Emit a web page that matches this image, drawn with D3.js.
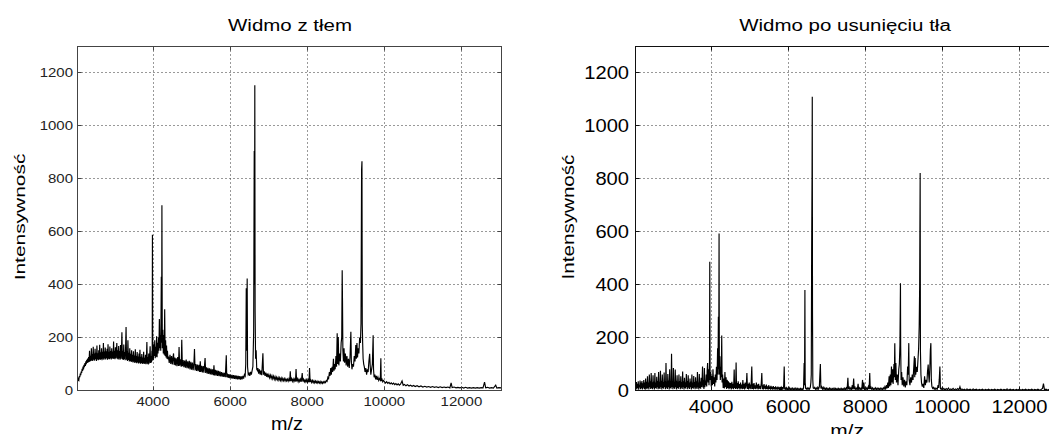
<!DOCTYPE html>
<html>
<head>
<meta charset="utf-8">
<script src="https://cdn.jsdelivr.net/npm/d3@7"></script>
<style>
  body { margin: 0; background: #fff; }
  svg { display: block; }
  text { font-family: "Liberation Sans", Arial, sans-serif; }
</style>
</head>
<body>
<div id="chart"></div>
<script>
// 1: DATA
const xTicks = [4000, 6000, 8000, 10000, 12000];
const yTicks = [0, 200, 400, 600, 800, 1000, 1200];
const xDomain = [2040, 13040];
const yDomain = [0, 1300];
const titles = ["Widmo z tłem", "Widmo po usunięciu tła"];
const xLabel = "m/z";
const yLabel = "Intensywność";

// [m/z, intensity] - raw spectrum with background
const spectrumWithBg = [
 [2052,35],[2064,44],[2076,40],[2088,55],[2100,50],[2112,64],[2124,58],[2136,72],[2148,66],[2160,82],[2172,74],[2184,90],[2196,80],[2208,97],[2220,88],[2232,104],[2244,93],[2256,110],[2268,99],[2280,116],[2292,104],[2304,121],[2316,106],[2328,126],[2340,108],[2352,150],[2364,110],[2376,131],[2388,112],[2400,160],[2412,114],[2424,138],[2436,112],[2448,165],[2460,116],[2472,140],[2484,113],[2496,158],[2508,118],[2520,143],[2532,112],[2544,170],[2556,117],[2568,141],[2580,114],[2592,152],[2604,118],[2616,173],[2628,115],[2640,144],[2652,119],[2664,160],[2676,114],[2688,146],[2700,120],[2712,179],[2724,116],[2736,147],[2748,121],[2760,162],[2772,117],[2784,148],[2796,122],[2808,158],[2820,116],[2832,175],[2844,120],[2856,146],[2868,118],[2880,166],[2892,121],[2904,149],[2916,117],[2928,160],[2940,122],[2952,147],[2964,119],[2976,185],[2988,121],[3000,150],[3012,118],[3024,163],[3036,122],[3048,146],[3060,179],[3072,120],[3084,152],[3096,117],[3108,168],[3120,121],[3132,149],[3144,116],[3156,172],[3168,120],[3180,146],[3192,220],[3204,118],[3216,150],[3228,115],[3240,174],[3252,119],[3264,145],[3276,114],[3288,162],[3300,240],[3312,116],[3324,148],[3336,112],[3348,190],[3360,115],[3372,143],[3384,110],[3396,160],[3408,112],[3420,139],[3432,108],[3444,152],[3456,110],[3468,135],[3480,106],[3492,148],[3504,109],[3516,132],[3528,104],[3540,156],[3552,107],[3564,130],[3576,103],[3588,145],[3600,106],[3612,128],[3624,102],[3636,140],[3648,105],[3660,154],[3672,101],[3684,127],[3696,104],[3708,138],[3720,100],[3732,125],[3744,103],[3756,146],[3768,100],[3780,124],[3792,102],[3804,135],[3816,99],[3828,122],[3840,183],[3852,101],[3864,126],[3876,98],[3888,140],[3900,102],[3912,125],[3924,167],[3936,104],[3948,130],[3960,106],[3970,150],[3978,112],[3984,589],[3992,120],[4008,118],[4020,175],[4032,130],[4044,190],[4056,122],[4068,165],[4080,128],[4092,205],[4104,126],[4116,180],[4128,140],[4140,200],[4152,150],[4164,270],[4176,160],[4188,210],[4200,150],[4214,430],[4222,180],[4230,700],[4240,160],[4254,230],[4266,140],[4278,210],[4290,135],[4302,307],[4314,130],[4326,190],[4338,125],[4350,170],[4362,120],[4374,150],[4386,118],
 [4400,128],[4420,104],[4440,135],[4460,100],[4480,130],[4500,98],[4520,128],[4532,140],[4545,97],[4565,125],[4580,95],[4600,122],[4620,92],[4640,126],[4660,93],[4675,164],[4690,94],[4710,118],[4730,90],[4745,192],[4760,92],[4780,115],[4800,88],[4820,113],[4840,86],[4860,117],[4880,84],[4900,110],[4920,83],[4940,112],[4960,80],[4980,108],[5000,79],[5020,106],[5040,77],[5060,104],[5075,157],[5090,76],[5110,100],[5130,74],[5150,98],[5170,73],[5190,97],[5210,70],[5225,110],[5240,70],[5260,93],[5280,68],[5300,92],[5320,67],[5350,123],[5365,66],[5385,88],[5405,64],[5425,86],[5445,63],[5465,84],[5485,61],[5505,82],[5525,60],[5545,80],[5565,58],[5580,95],[5595,57],[5615,78],[5635,56],[5655,76],[5675,55],[5695,74],[5715,54],[5735,72],[5755,53],[5775,70],[5795,52],[5815,68],[5835,51],[5855,67],[5875,50],[5900,133],[5912,50],[5930,64],[5950,48],[5970,62],[5990,47],[6010,60],[6030,46],[6050,59],[6070,45],[6090,58],[6110,44],[6130,57],[6150,43],[6170,56],[6190,42],[6210,55],[6230,42],[6250,54],[6270,41],[6290,53],[6310,42],[6330,55],[6350,45],[6370,60],[6390,55],[6405,100],[6418,386],[6430,150],[6442,423],[6452,90],[6470,60],[6490,65],[6510,55],[6530,70],[6550,60],[6570,75],[6590,90],[6610,220],[6625,905],[6632,400],[6640,1154],[6648,300],[6660,120],[6675,152],[6690,80],[6710,75],
 [6720,85],[6740,64],[6760,80],[6780,60],[6800,75],[6820,58],[6850,141],[6865,60],[6885,72],[6905,55],[6925,68],[6945,52],[6965,64],[6985,50],[7005,60],[7025,48],[7045,58],[7065,46],[7085,56],[7105,44],[7125,54],[7145,42],[7165,52],[7185,41],[7205,50],[7225,40],[7245,49],[7265,39],[7285,48],[7305,38],[7325,47],[7345,37],[7365,46],[7385,37],[7405,45],[7425,36],[7445,44],[7465,36],[7485,43],[7505,35],[7525,44],[7545,35],[7560,73],[7575,36],[7595,45],[7615,35],[7635,44],[7655,34],[7675,43],[7695,34],[7710,81],[7725,35],[7745,44],[7765,33],[7785,42],[7805,34],[7825,43],[7845,33],[7870,66],[7885,34],[7905,42],[7925,33],[7945,40],[7965,32],[7985,41],[8005,31],[8025,40],[8045,31],[8060,85],[8075,32],[8095,39],[8115,30],[8135,38],[8155,30],[8175,37],[8195,29],[8215,36],[8235,29],[8255,35],[8275,28],[8295,34],[8315,28],[8335,34],[8355,27],[8375,33],[8395,27],[8415,33],[8435,28],[8455,34],[8475,30],[8495,38],[8515,35],[8535,50],[8555,45],[8575,70],[8590,55],[8610,85],[8625,60],[8645,90],[8660,70],[8680,120],[8695,75],[8710,100],[8725,80],[8745,130],[8760,90],[8777,216],[8790,100],[8805,202],[8820,95],[8840,140],[8860,110],[8880,180],[8895,200],[8907,454],[8915,341],[8925,150],[8940,110],[8955,160],[8970,105],[8990,140],[9010,95],[9030,130],[9050,90],[9070,120],[9090,85],[9110,125],[9132,222],[9145,110],[9160,80],[9180,100],[9200,90],[9220,130],[9240,110],[9260,172],[9275,120],[9290,179],[9305,125],[9320,160],[9340,140],[9360,200],[9380,180],[9395,254],[9410,835],[9420,866],[9428,250],[9438,180],[9450,120],[9465,100],[9480,90],[9500,70],[9520,85],[9540,60],[9560,80],[9580,70],[9600,110],[9620,139],[9635,90],[9650,60],[9670,80],[9690,100],[9710,209],[9720,80],[9735,50],[9755,60],[9775,42],[9795,55],[9815,40],[9835,50],[9855,38],[9875,45],[9895,40],[9910,122],[9920,36],[9940,42],[9960,33],[9980,38],
 [10000,34],[10030,28],[10060,33],[10090,27],[10120,31],[10150,25],[10180,29],[10210,24],[10240,28],[10270,22],[10300,26],[10330,21],[10360,25],[10390,20],[10420,24],[10460,36],[10490,20],[10520,23],[10560,18],[10600,22],[10640,17],[10680,20],[10720,16],[10760,19],[10800,15],[10850,18],[10900,14],[10950,17],[11000,13],[11050,16],[11100,13],[11150,15],[11200,12],[11250,15],[11300,12],[11350,14],[11400,11],[11450,14],[11500,11],[11550,13],[11600,11],[11650,13],[11700,10],[11733,29],[11760,11],[11810,13],[11860,10],[11910,12],[11960,10],[12010,12],[12060,9],[12110,12],[12160,9],[12210,11],[12260,9],[12310,11],[12360,9],[12410,11],[12460,9],[12510,11],[12560,10],[12600,32],[12630,10],[12680,12],[12730,9],[12780,11],[12830,9],[12890,20],[12920,9],[12970,11],[13040,10]
];

// [m/z, intensity] - spectrum after background removal
const spectrumNoBg = [
 [2015,20],[2027,5],[2039,28],[2051,8],[2063,32],[2075,4],[2087,25],[2099,10],[2111,35],[2123,3],[2135,22],[2147,12],[2159,38],[2171,5],[2183,30],[2195,9],[2207,36],[2219,4],[2231,27],[2243,11],[2255,40],[2267,6],[2279,30],[2291,3],[2303,45],[2315,8],[2327,33],[2339,5],[2351,54],[2363,10],[2375,30],[2387,4],[2399,60],[2411,12],[2423,35],[2435,6],[2447,66],[2459,9],[2471,31],[2483,5],[2495,58],[2507,11],[2519,34],[2531,4],[2543,66],[2555,10],[2567,30],[2579,7],[2591,52],[2603,12],[2615,36],[2627,5],[2639,70],[2651,9],[2663,33],[2675,6],[2687,75],[2699,12],[2711,37],[2723,4],[2735,60],[2747,10],[2759,32],[2771,7],[2783,68],[2795,13],[2807,35],[2819,5],[2831,104],[2843,11],[2855,34],[2867,6],[2879,62],[2891,12],[2903,38],[2915,4],[2927,80],[2939,10],[2951,35],[2963,7],[2975,139],[2987,13],[2999,36],[3011,5],[3023,85],[3035,11],[3047,33],[3059,6],[3071,79],[3083,12],[3095,37],[3107,4],[3119,58],[3131,10],[3143,34],[3155,7],[3167,60],[3179,13],[3191,36],[3203,5],[3215,54],[3227,11],[3239,32],[3251,6],[3263,72],[3275,12],[3287,35],[3299,4],[3311,48],[3323,10],[3335,31],[3347,7],[3359,62],[3371,13],[3383,36],[3395,5],[3407,58],[3419,11],[3431,30],[3443,6],[3455,45],[3467,12],[3479,34],[3491,4],[3503,60],[3515,10],[3527,30],[3539,7],[3551,55],[3563,12],[3575,32],[3587,5],[3599,50],[3611,11],[3623,35],[3635,6],[3647,70],[3659,12],[3671,30],[3683,4],[3695,62],[3707,10],[3719,34],[3731,7],[3743,48],[3755,13],[3767,36],[3779,91],[3791,11],[3803,40],[3815,6],[3827,85],[3839,12],[3851,38],[3863,20],[3875,60],[3887,15],[3899,75],[3911,104],[3923,30],[3935,80],[3947,20],[3960,95],[3967,487],[3975,40],[3990,70],[4005,15],[4020,55],[4035,20],[4050,80],[4065,25],[4080,50],[4095,15],[4110,60],[4125,30],[4140,90],[4155,40],[4170,160],[4180,60],[4190,279],[4198,80],[4208,593],[4216,60],[4230,129],[4240,40],[4255,90],[4265,50],[4277,208],[4287,30],[4300,60],[4315,10],[4330,45],[4345,8],[4360,70],[4375,12],[4390,50],[4405,6],[4420,40],[4435,10],[4450,35],[4465,5],[4480,30],[4495,9],[4510,28],[4525,4],[4540,33],[4555,8],[4570,25],[4585,5],[4600,79],[4612,10],[4625,30],[4637,6],[4650,106],[4662,8],[4675,28],[4690,5],[4705,35],[4720,9],[4735,24],[4750,4],[4765,30],[4780,8],[4795,22],[4810,5],[4825,40],[4840,7],[4855,25],[4870,4],[4885,30],[4900,8],[4915,20],[4930,66],[4945,6],[4960,25],[4975,4],[4990,30],[5005,8],[5020,22],[5035,5],[5057,91],[5070,6],[5085,25],[5100,4],[5115,28],[5130,7],[5145,20],[5160,5],[5175,30],[5190,8],[5205,22],[5220,4],[5235,25],[5250,7],[5265,18],[5280,5],[5300,22],[5317,66],[5330,5],[5345,20],[5360,4],[5375,24],[5390,7],[5405,18],[5420,4],[5435,22],[5450,6],[5465,16],[5480,3],[5495,20],[5510,6],[5525,15],[5540,3],[5555,18],[5570,5],[5585,14],[5600,3],[5615,17],[5630,5],[5645,13],[5660,3],[5675,16],[5690,4],[5705,12],[5720,3],[5735,15],[5750,4],[5765,12],[5780,2],[5795,14],[5810,4],[5825,11],[5840,2],[5855,13],[5870,4],[5885,20],[5898,91],[5910,4],[5925,12],[5940,3],[5960,10],[5980,2],[6000,9],[6020,3],[6040,10],[6060,2],[6080,8],[6100,3],[6120,9],[6140,2],[6160,8],[6180,3],[6200,9],[6220,2],[6240,8],[6260,3],[6280,7],[6300,2],[6320,8],[6340,3],[6360,7],[6380,2],[6400,10],[6415,104],[6425,20],[6435,380],[6442,30],[6455,8],[6475,5],[6495,10],[6515,4],[6535,9],[6555,5],[6575,12],[6590,30],[6600,60],[6610,530],[6616,700],[6620,810],[6626,1110],[6632,300],[6640,40],[6650,10],[6670,8],[6690,12],[6710,5],[6730,10],[6750,4],[6770,12],[6790,6],[6810,15],[6836,100],[6850,8],[6870,14],[6890,5],[6910,12],[6930,4],[6950,10],[6970,3],[6990,9],[7010,3],[7030,8],[7050,2],[7070,9],[7090,3],[7110,8],[7130,2],[7150,7],[7170,3],[7190,9],[7210,2],[7230,8],[7250,3],[7270,7],[7290,2],[7310,8],[7330,3],[7350,7],[7370,2],[7390,8],[7410,3],[7430,7],[7450,2],[7470,9],[7490,3],[7510,10],[7530,4],[7550,48],[7565,5],[7585,12],[7605,3],[7625,10],[7645,4],[7665,20],[7680,4],[7700,45],[7715,5],[7735,12],[7755,3],[7775,9],[7795,4],[7815,25],[7830,4],[7850,10],[7870,3],[7890,9],[7910,4],[7930,40],[7945,5],[7965,30],[7980,4],[8000,8],[8020,3],[8040,10],[8060,4],[8080,15],[8100,5],[8117,66],[8130,6],[8150,12],[8170,4],[8190,10],[8210,3],[8230,8],[8250,4],[8270,10],[8290,3],[8310,9],[8330,4],[8350,8],[8370,3],[8390,9],[8410,4],[8430,8],[8450,3],[8470,10],[8490,5],[8510,14],[8530,6],[8550,20],[8565,8],[8585,30],[8600,10],[8620,54],[8635,15],[8650,60],[8665,20],[8680,91],[8695,30],[8710,80],[8725,25],[8745,100],[8755,50],[8767,179],[8780,40],[8795,104],[8810,30],[8830,60],[8850,20],[8870,80],[8885,100],[8900,170],[8914,405],[8920,167],[8930,40],[8945,70],[8960,20],[8980,50],[9000,15],[9020,40],[9040,12],[9060,35],[9080,20],[9100,91],[9115,60],[9130,179],[9140,40],[9160,20],[9180,50],[9200,30],[9220,60],[9240,40],[9260,90],[9275,129],[9285,50],[9295,123],[9310,60],[9330,90],[9350,70],[9370,120],[9385,160],[9400,242],[9412,392],[9425,822],[9432,150],[9445,60],[9460,30],[9480,15],[9500,25],[9520,10],[9540,54],[9560,20],[9580,40],[9600,30],[9615,70],[9633,98],[9645,60],[9660,30],[9675,80],[9690,154],[9703,179],[9715,40],[9730,15],[9750,8],[9770,12],[9790,5],[9810,10],[9830,4],[9850,8],[9870,5],[9890,20],[9905,10],[9920,40],[9937,91],[9950,8],[9970,4],[9990,9],[10010,3],
 [10040,8],[10070,2],[10100,7],[10130,3],[10160,9],[10190,2],[10220,6],[10250,3],[10280,8],[10310,2],[10340,6],[10370,3],[10400,7],[10430,2],[10457,14],[10480,2],[10510,6],[10540,2],[10570,5],[10600,1],[10640,6],[10680,2],[10720,5],[10760,1],[10800,6],[10840,2],[10880,5],[10920,1],[10960,4],[11000,2],[11040,5],[11080,1],[11120,4],[11160,2],[11200,5],[11240,1],[11280,4],[11320,2],[11360,5],[11400,1],[11440,4],[11480,2],[11520,5],[11560,1],[11600,4],[11640,2],[11680,6],[11720,1],[11760,5],[11800,2],[11840,4],[11880,1],[11920,4],[11960,2],[12000,5],[12040,1],[12080,4],[12120,2],[12160,5],[12200,1],[12240,4],[12280,2],[12320,5],[12360,1],[12400,4],[12440,2],[12480,5],[12520,1],[12560,4],[12600,8],[12624,26],[12650,3],[12690,5],[12730,1],[12770,4],[12810,2],[12850,5],[12890,1],[12930,4],[12970,2],[13010,5],[13040,2]
];

// 2: LAYOUT - two MATLAB-like panels, the right one runs past the window edge
const svg = d3.select("#chart")
    .append("svg")
    .attr("width", 1049)
    .attr("height", 434);

const panels = [
  { data: spectrumWithBg, title: titles[0], x0: 77.5, x1: 501.5, top: 46.5, bottom: 390.5,
    boxColor: "#444", textColor: "#222", titleX: 290, xLabX: 287,
    tick: { size: 12.5, sx: 1.2, xBase: 406, yRight: 73 },
    titleStyle: { size: 16, sx: 1.28, y: 31 },
    yLab: { size: 15.5, sx: 1.35, x: 25, y: 217 },
    xLab: { size: 18, sx: 1.1, y: 430 } },
  { data: spectrumNoBg, title: titles[1], x0: 635.5, x1: 1059.5, top: 46.5, bottom: 390.5,
    boxColor: "#111", textColor: "#000", titleX: 845, xLabX: 847,
    tick: { size: 17.5, sx: 1.15, xBase: 413, yRight: 629 },
    titleStyle: { size: 16, sx: 1.28, y: 31 },
    yLab: { size: 16.5, sx: 1.25, x: 574, y: 217 },
    xLab: { size: 19, sx: 1.1, y: 437 } }
];

function stretchedText(g, str, x, y, size, sx, anchor, color, rotate) {
  return g.append("text")
    .attr("transform", `translate(${x},${y})` + (rotate ? " rotate(-90)" : "") + ` scale(${sx},1)`)
    .attr("text-anchor", anchor)
    .style("font-size", size + "px")
    .style("fill", color)
    .text(str);
}

const snap = v => Math.round(v - 0.5) + 0.5;

panels.forEach((p, i) => {
  const g = svg.append("g");

  // 3: SCALES
  const xScale = d3.scaleLinear().domain(xDomain).range([p.x0, p.x1]);
  const yScale = d3.scaleLinear().domain(yDomain).range([p.bottom, p.top]);

  // 4: GRID (dotted)
  g.selectAll(".vgrid")
    .data(xTicks)
    .enter()
    .append("line")
    .attr("x1", d => snap(xScale(d)))
    .attr("x2", d => snap(xScale(d)))
    .attr("y1", p.top)
    .attr("y2", p.bottom)
    .style("stroke", "#333")
    .style("stroke-dasharray", "1,3");

  g.selectAll(".hgrid")
    .data(yTicks.filter(d => d > 0))
    .enter()
    .append("line")
    .attr("x1", p.x0)
    .attr("x2", p.x1)
    .attr("y1", d => snap(yScale(d)))
    .attr("y2", d => snap(yScale(d)))
    .style("stroke", "#333")
    .style("stroke-dasharray", "1,3");

  // 5: SPECTRUM LINE
  const clipId = "clip" + i;
  g.append("clipPath")
    .attr("id", clipId)
    .append("rect")
    .attr("x", p.x0)
    .attr("y", p.top)
    .attr("width", p.x1 - p.x0)
    .attr("height", p.bottom - p.top);

  g.append("path")
    .datum(p.data)
    .attr("clip-path", `url(#${clipId})`)
    .attr("d", d3.line()
        .x(d => xScale(d[0]))
        .y(d => yScale(d[1]))
    )
    .style("fill", "none")
    .style("stroke", "#000")
    .style("stroke-width", 1.15);

  // 6: BOX AND INWARD TICKS
  g.append("rect")
    .attr("x", p.x0)
    .attr("y", p.top)
    .attr("width", p.x1 - p.x0)
    .attr("height", p.bottom - p.top)
    .style("fill", "none")
    .style("stroke", p.boxColor);

  const tickLen = 4;
  xTicks.forEach(d => {
    const x = snap(xScale(d));
    g.append("line").attr("x1", x).attr("x2", x).attr("y1", p.bottom).attr("y2", p.bottom - tickLen).style("stroke", p.boxColor);
    g.append("line").attr("x1", x).attr("x2", x).attr("y1", p.top).attr("y2", p.top + tickLen).style("stroke", p.boxColor);
  });
  yTicks.forEach(d => {
    const y = snap(yScale(d));
    g.append("line").attr("x1", p.x0).attr("x2", p.x0 + tickLen).attr("y1", y).attr("y2", y).style("stroke", p.boxColor);
    g.append("line").attr("x1", p.x1).attr("x2", p.x1 - tickLen).attr("y1", y).attr("y2", y).style("stroke", p.boxColor);
  });

  // 7: TICK LABELS
  xTicks.forEach(d => {
    stretchedText(g, d, xScale(d), p.tick.xBase, p.tick.size, p.tick.sx, "middle", p.textColor);
  });
  yTicks.forEach(d => {
    stretchedText(g, d, p.tick.yRight, yScale(d) + p.tick.size * 0.36, p.tick.size, p.tick.sx, "end", p.textColor);
  });

  // 8: TITLES AND AXIS LABELS
  stretchedText(g, p.title, p.titleX, p.titleStyle.y, p.titleStyle.size, p.titleStyle.sx, "middle", "#000");
  stretchedText(g, xLabel, p.xLabX, p.xLab.y, p.xLab.size, p.xLab.sx, "middle", "#000");
  stretchedText(g, yLabel, p.yLab.x, p.yLab.y, p.yLab.size, p.yLab.sx, "middle", "#000", true);
});
</script>
</body>
</html>
